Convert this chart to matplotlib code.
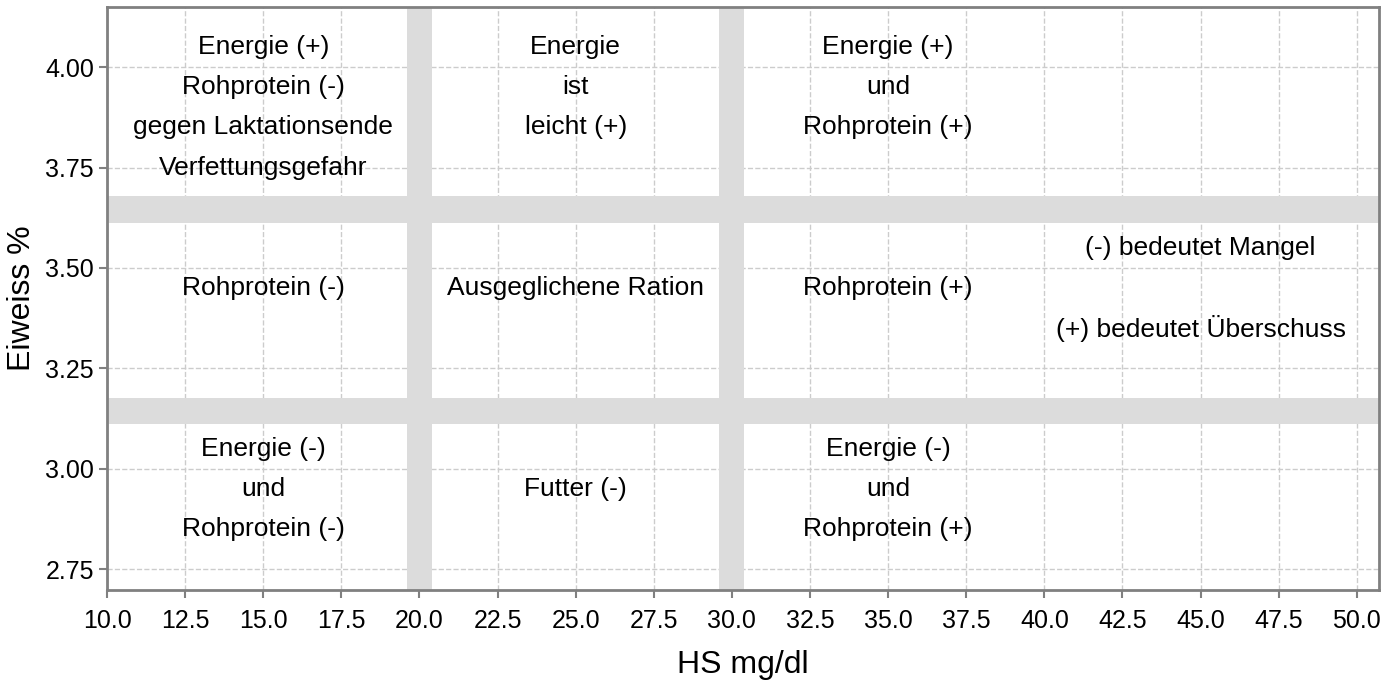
import numpy as np
import matplotlib
matplotlib.use('Agg')
import matplotlib.pyplot as plt

plt.rcParams['font.family'] = ['Liberation Sans', 'DejaVu Sans']

# Grenzen der Bereiche (graue Balken)
hs_bands = [(19.6, 20.4), (29.6, 30.4)]          # HS mg/dl
eiweiss_bands = [(3.612, 3.679), (3.111, 3.177)]  # Eiweiss %

# Beschriftungen der Felder: Text, x, y
labels = ['Energie (+)', 'Rohprotein (-)', 'gegen Laktationsende', 'Verfettungsgefahr',
          'Energie', 'ist', 'leicht (+)',
          'Energie (+)', 'und', 'Rohprotein (+)',
          'Rohprotein (-)', 'Ausgeglichene Ration', 'Rohprotein (+)',
          '(-) bedeutet Mangel', '(+) bedeutet Überschuss',
          'Energie (-)', 'und', 'Rohprotein (-)',
          'Futter (-)',
          'Energie (-)', 'und', 'Rohprotein (+)']
lab_x = [15, 15, 15, 15,
         25, 25, 25,
         35, 35, 35,
         15, 25, 35,
         45, 45,
         15, 15, 15,
         25,
         35, 35, 35]
lab_y = [4.05, 3.95, 3.85, 3.75,
         4.05, 3.95, 3.85,
         4.05, 3.95, 3.85,
         3.45, 3.45, 3.45,
         3.55, 3.35,
         3.05, 2.95, 2.85,
         2.95,
         3.05, 2.95, 2.85]

xticks = np.arange(10, 50.1, 2.5)
yticks = [2.75, 3.00, 3.25, 3.50, 3.75, 4.00]

fig = plt.figure(figsize=(13.99, 6.8), dpi=100)
ax = fig.add_axes([0.0765, 0.1324, 0.9092, 0.8568])

for a, b in hs_bands:
    ax.axvspan(a, b, color='#dcdcdc', lw=0, zorder=1)
for a, b in eiweiss_bands:
    ax.axhspan(a, b, color='#dcdcdc', lw=0, zorder=1)

for t, x, y in zip(labels, lab_x, lab_y):
    ax.text(x, y, t, ha='center', va='center', fontsize=19, zorder=3)

ax.set_xlim(10, 50.71)
ax.set_ylim(2.698, 4.149)
ax.set_xticks(xticks)
ax.set_xticklabels([f'{v:.1f}' for v in xticks])
ax.set_yticks(yticks)
ax.set_yticklabels([f'{v:.2f}' for v in yticks])
ax.tick_params(labelsize=18, color='#808080', length=6, width=1.5, colors='#808080', labelcolor='black')
ax.tick_params(axis='x', pad=8)
ax.grid(True, ls='--', color='#cccccc', lw=1, zorder=0)
ax.set_axisbelow(True)
for s in ax.spines.values():
    s.set_color('#808080')
    s.set_linewidth(2)

ax.set_xlabel('HS mg/dl', fontsize=23, labelpad=12)
ax.set_ylabel('Eiweiss %', fontsize=23, labelpad=6)

plt.savefig('out.png', dpi=100)
